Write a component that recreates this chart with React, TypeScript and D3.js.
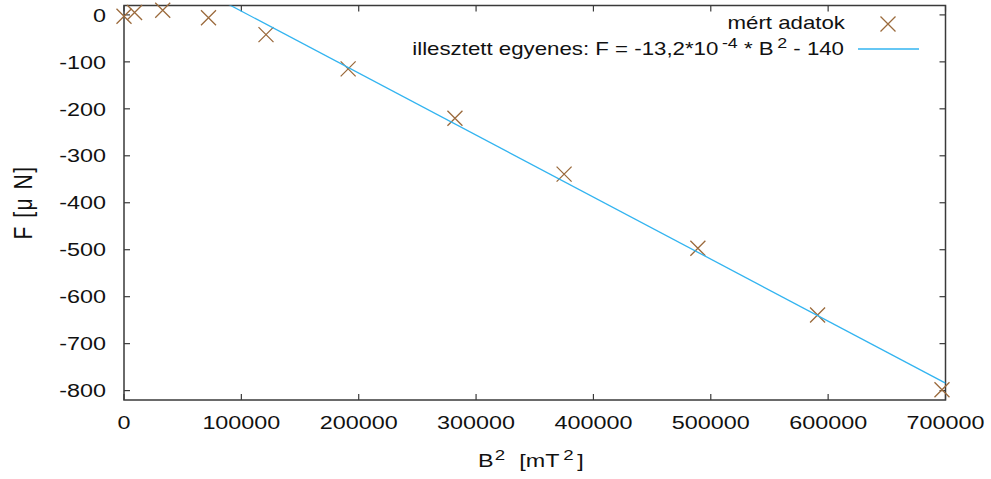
import React from "react";
import * as d3 from "d3";

const bSquared = [0, 9000, 33000, 72000, 121000, 191000, 282000, 375000, 489000, 591000, 697000];
const force = [-3, 5, 10, -6, -42, -115, -220, -339, -497, -639, -798];
const xTicks = [0, 100000, 200000, 300000, 400000, 500000, 600000, 700000];
const yTicks = [0, -100, -200, -300, -400, -500, -600, -700, -800];
const fitSlope = -13.2e-4;
const fitIntercept = 140;

const W = 991, H = 479;
const L = 124, R = 945.5, T = 5.5, B = 400;
const SX = 1.25;
const SXL = 1.19;
const FS = 18.7;
const FONT = "'Liberation Sans', Arial, sans-serif";

const x = d3.scaleLinear().domain([0, 700000]).range([L, R]);
const y = d3.scaleLinear().domain([-820, 20]).range([B, T]);

const markerColor = "#9b6a3c";
const lineColor = "#33b4f0";
const axisColor = "#3a3a3a";

function Lbl({ x0, y0, anchor, children }: any) {
  return (
    <g transform={`translate(${x0},${y0}) scale(${SX},1)`}>
      <text textAnchor={anchor || "start"} fontFamily={FONT} fontSize={FS} fill="#111">
        {children}
      </text>
    </g>
  );
}

function Cross({ cx, cy }: { cx: number; cy: number }) {
  const s = 7.5;
  return (
    <path
      d={`M${cx - s},${cy - s}L${cx + s},${cy + s}M${cx - s},${cy + s}L${cx + s},${cy - s}`}
      stroke={markerColor}
      strokeWidth={1.3}
      fill="none"
    />
  );
}

export default function App() {
  const fitX = [0, 700000];
  const fitLine = d3
    .line<number>()
    .x((d) => x(d))
    .y((d) => y(fitSlope * d + fitIntercept))(fitX);

  return (
    <svg width={W} height={H} style={{ position: "absolute", left: 0, top: 0, background: "#fff" }}>
      <defs>
        <clipPath id="plotclip">
          <rect x={L} y={T} width={R - L} height={B - T} />
        </clipPath>
      </defs>
      <rect x={0} y={0} width={W} height={H} fill="#fff" />
      {xTicks.map((t) => (
        <g key={"xt" + t}>
          <line x1={x(t)} x2={x(t)} y1={B} y2={B - 6} stroke={axisColor} strokeWidth={1.2} />
          <line x1={x(t)} x2={x(t)} y1={T} y2={T + 6} stroke={axisColor} strokeWidth={1.2} />
          <Lbl x0={x(t)} y0={428.5} anchor="middle">{String(t)}</Lbl>
        </g>
      ))}
      {yTicks.map((t) => (
        <g key={"yt" + t}>
          <line x1={L} x2={L + 6} y1={y(t)} y2={y(t)} stroke={axisColor} strokeWidth={1.2} />
          <line x1={R} x2={R - 6} y1={y(t)} y2={y(t)} stroke={axisColor} strokeWidth={1.2} />
          <Lbl x0={106} y0={y(t) + 6.7} anchor="end">{String(t)}</Lbl>
        </g>
      ))}
      <rect x={L} y={T} width={R - L} height={B - T} fill="none" stroke={axisColor} strokeWidth={1.5} />
      {bSquared.map((b, i) => (
        <Cross key={"p" + i} cx={x(b)} cy={y(force[i])} />
      ))}
      <path d={fitLine || ""} stroke={lineColor} strokeWidth={1.3} fill="none" clipPath="url(#plotclip)" />
      {/* legend */}
      <g transform={`translate(845,29) scale(${SXL},1)`}>
        <text textAnchor="end" fontFamily={FONT} fontSize={FS} fill="#111">mért adatok</text>
      </g>
      <Cross cx={888} cy={24} />
      <g transform={`translate(844,55) scale(${SXL},1)`}>
        <text textAnchor="end" fontFamily={FONT} fontSize={FS} fill="#111">
          illesztett egyenes: F = -13,2*10
          <tspan dx={3} dy={-7} fontSize={FS * 0.8}>-4</tspan>
          <tspan dy={7}> * B</tspan>
          <tspan dx={3} dy={-7} fontSize={FS * 0.8}>2</tspan>
          <tspan dy={7}> - 140</tspan>
        </text>
      </g>
      <line x1={858} x2={919} y1={49} y2={49} stroke={lineColor} strokeWidth={1.3} />
      {/* axis labels */}
      <g transform={`translate(478,466.5) scale(${SX},1)`}>
        <text textAnchor="start" fontFamily={FONT} fontSize={FS} fill="#111">
          B<tspan dx={1} dy={-7} fontSize={FS * 0.8}>2</tspan>
          <tspan dx={6} dy={7}>{" [mT"}</tspan>
          <tspan dx={3} dy={-7} fontSize={FS * 0.8}>2</tspan>
          <tspan dx={3} dy={7}>]</tspan>
        </text>
      </g>
      <g transform={`translate(32,202.5) scale(${SX},1) rotate(-90)`}>
        <text textAnchor="middle" fontFamily={FONT} fontSize={21} letterSpacing={1.5} fill="#111">
          F [μ N]
        </text>
      </g>
    </svg>
  );
}
